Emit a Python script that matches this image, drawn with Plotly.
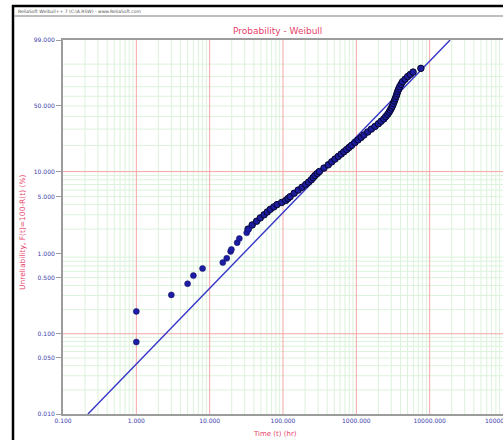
import numpy as np
import plotly.graph_objects as go

# ---------------- data ----------------
# early, isolated failures: time (hr), unreliability (%)
t_early = [1.0, 1.0, 3.0, 5.0, 6.0, 8.0, 15.1, 17.1, 19.3, 19.8, 23.7, 25.4, 32.0, 33.7]
F_early = [0.079, 0.19, 0.305, 0.42, 0.53, 0.65, 0.77, 0.87, 1.06, 1.12, 1.36, 1.53, 1.8, 1.98]

# dense band of failures
t_band = [33.4, 38, 43.7, 49, 55.2, 61, 67.1, 75, 83, 96, 109, 117, 125, 142, 161, 182,
          204, 224, 243, 258, 273, 293, 313, 362, 414, 462, 512, 565, 621, 678, 738, 796,
          858, 955, 1054, 1160, 1270, 1430, 1603, 1800, 2000, 2180, 2371, 2520, 2680, 2800,
          2910, 3010, 3110, 3200, 3300, 3395, 3490, 3575, 3660, 3780, 3900, 4070, 4260,
          4620, 5010, 5450, 5940, 7590]
F_band = [2.0, 2.25, 2.5, 2.75, 3.0, 3.25, 3.5, 3.75, 4.0, 4.25, 4.5, 4.75, 5.0, 5.5, 6.0, 6.5,
          7.0, 7.5, 8.0, 8.5, 9.0, 9.5, 10, 11, 12, 13, 14, 15, 16, 17, 18, 19,
          20, 21.5, 23, 24.5, 26, 28, 30, 32, 34, 36, 38, 40, 42, 44,
          46, 48, 50, 52.5, 55, 57.5, 60, 62.5, 65, 67.5, 70, 72.5, 75,
          77.5, 80, 82, 84, 87]

# fitted Weibull line end points
t_fit = [0.219, 19000]
F_fit = [0.01, 99]

# axis ticks
x_tickvals = [0.1, 1, 10, 100, 1000, 10000]
x_ticktext = ["0.100", "1.000", "10.000", "100.000", "1000.000", "10000.000"]
x_edge_label = "100000.000"
y_tickvals_pct = [99, 50, 10, 5, 1, 0.5, 0.1, 0.05, 0.01]
y_ticktext = ["99.000", "50.000", "10.000", "5.000", "1.000", "0.500", "0.100", "0.050", "0.010"]


def wy(F):
    F = np.asarray(F, dtype=float) / 100.0
    return np.log(-np.log(1.0 - F))


y_lo, y_hi = float(wy(0.01)), float(wy(99))

# ---------------- grid lines ----------------
x_major = [1, 10, 100, 1000, 10000]
x_minor = [k * 10.0 ** d for d in range(-1, 5) for k in range(2, 10)]
y_major = [10, 0.1]
y_minor = ([k * 0.01 for k in range(2, 10)] + [k * 0.1 for k in range(2, 10)] +
           [k * 1.0 for k in range(2, 10)] + [k * 10.0 for k in range(2, 10)])


def vlines(xs):
    X, Y = [], []
    for x in xs:
        X += [x, x, None]
        Y += [y_lo, y_hi, None]
    return X, Y


def hlines(fs):
    X, Y = [], []
    for f in fs:
        w = float(wy(f))
        X += [0.1, 100000, None]
        Y += [w, w, None]
    return X, Y


GREEN = "#dcf2dc"
RED = "#f3a6a6"

fig = go.Figure()
gx, gy = vlines(x_minor)
hx, hy = hlines(y_minor)
fig.add_trace(go.Scatter(x=gx + hx, y=gy + hy, mode="lines",
                         line=dict(color=GREEN, width=1), hoverinfo="skip", showlegend=False))
gx, gy = vlines(x_major)
hx, hy = hlines(y_major)
fig.add_trace(go.Scatter(x=gx + hx, y=gy + hy, mode="lines",
                         line=dict(color=RED, width=1), hoverinfo="skip", showlegend=False))

# fit line
fig.add_trace(go.Scatter(x=t_fit, y=wy(F_fit), mode="lines",
                         line=dict(color="#3535c8", width=1.4), showlegend=False))

# data points
fig.add_trace(go.Scatter(x=t_band, y=wy(F_band), mode="markers",
                         marker=dict(size=6.5, color="#1c1c9c", line=dict(color="#06062e", width=1)),
                         showlegend=False))
fig.add_trace(go.Scatter(x=t_early, y=wy(F_early), mode="markers",
                         marker=dict(size=6, color="#1c1ca4", line=dict(color="#10105a", width=0.5)),
                         showlegend=False))

TICKFONT = dict(family="DejaVu Sans", size=6, color="#3c3cab")
PINK = "#e8436c"

fig.update_layout(
    width=503, height=440, autosize=False,
    margin=dict(l=63, r=0, t=40, b=26, pad=0),
    paper_bgcolor="white", plot_bgcolor="white",
    xaxis=dict(type="log", range=[-1, 5], tickvals=x_tickvals, ticktext=x_ticktext,
               showgrid=False, zeroline=False, showline=True, linecolor="#9c9c9c", linewidth=2,
               mirror=True, ticks="", tickfont=TICKFONT),
    yaxis=dict(range=[y_lo, y_hi], tickvals=list(wy(y_tickvals_pct)), ticktext=y_ticktext,
               showgrid=False, zeroline=False, showline=True, linecolor="#9c9c9c", linewidth=2,
               ticks="outside", ticklen=5, tickcolor="#9c9c9c", tickwidth=1, tickfont=TICKFONT),
    font=dict(family="DejaVu Sans"),
)


def px_x(p):
    return (p - 63) / 440.0


def px_y(p):
    return (414 - p) / 374.0


fig.add_annotation(text=x_edge_label, xref="paper", yref="paper",
                   x=1.0, y=px_y(420.5), showarrow=False, xanchor="center", yanchor="middle",
                   font=TICKFONT)
fig.add_annotation(text="Probability - Weibull", xref="paper", yref="paper",
                   x=px_x(277), y=px_y(31), showarrow=False, xanchor="center", yanchor="middle",
                   font=dict(family="DejaVu Sans", size=9, color=PINK))
fig.add_annotation(text="Time (t) (hr)", xref="paper", yref="paper",
                   x=px_x(275), y=px_y(434), showarrow=False, xanchor="center", yanchor="middle",
                   font=dict(family="DejaVu Sans", size=7, color=PINK))
fig.add_annotation(text="Unreliability, F(t)=100-R(t) (%)", xref="paper", yref="paper",
                   x=px_x(22), y=px_y(232), showarrow=False, textangle=-90,
                   xanchor="center", yanchor="middle",
                   font=dict(family="DejaVu Sans", size=7.5, color=PINK))
fig.add_annotation(text="ReliaSoft Weibull++ 7 (C:\\A.RSW) - www.ReliaSoft.com", xref="paper", yref="paper",
                   x=px_x(16), y=px_y(11.5), showarrow=False, xanchor="left", yanchor="middle",
                   font=dict(family="DejaVu Sans", size=4.5, color="#555555"))

# window frame
fig.add_shape(type="line", xref="paper", yref="paper", x0=px_x(13), x1=px_x(13),
              y0=px_y(440), y1=px_y(5), line=dict(color="black", width=2.5))
fig.add_shape(type="line", xref="paper", yref="paper", x0=px_x(12), x1=1.0,
              y0=px_y(6), y1=px_y(6), line=dict(color="black", width=2.5))
fig.add_shape(type="line", xref="paper", yref="paper", x0=px_x(14), x1=1.0,
              y0=px_y(16), y1=px_y(16), line=dict(color="#a8a8a8", width=1.5))

fig.write_html("out.html", config={"displayModeBar": False},
               post_script="document.body.style.margin='0px';document.body.style.overflow='hidden';")
